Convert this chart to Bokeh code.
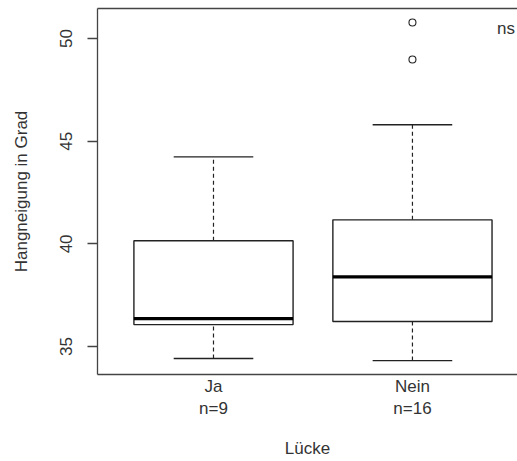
from bokeh.plotting import figure
from bokeh.models import Range1d, FixedTicker, LinearAxis, Label, ColumnDataSource
from bokeh.embed import file_html
from bokeh.resources import INLINE

# Data
groups = ["Ja", "Nein"]
counts = [9, 16]
xpos = [1, 2]
lower = [34.42, 34.32]
q1 = [36.07, 36.22]
median = [36.36, 38.39]
q3 = [40.15, 41.17]
upper = [44.24, 45.80]
outlier_x = [2, 2]
outlier_y = [50.78, 48.98]
y_ticks = [35, 40, 45, 50]

FONT = "Liberation Sans"
LINE = "#222222"
FS = "17px"

p = figure(width=517, height=461, output_backend="svg", toolbar_location=None,
           x_range=Range1d(0.417, 2.528), y_range=Range1d(33.64, 51.46),
           min_border_left=97, min_border_top=8, min_border_bottom=87, min_border_right=0)
p.outline_line_color = None
p.xgrid.visible = False
p.ygrid.visible = False
p.background_fill_color = "white"
p.border_fill_color = "white"

bw = 0.8
cw = 0.4
src = ColumnDataSource(dict(x=xpos, lower=lower, q1=q1, median=median, q3=q3, upper=upper,
                            l=[x - bw / 2 for x in xpos], r=[x + bw / 2 for x in xpos],
                            cl=[x - cw / 2 for x in xpos], cr=[x + cw / 2 for x in xpos]))

# whiskers (dashed)
p.segment(x0="x", y0="q3", x1="x", y1="upper", source=src, line_color=LINE, line_width=1.2, line_dash="4 3")
p.segment(x0="x", y0="lower", x1="x", y1="q1", source=src, line_color=LINE, line_width=1.2, line_dash="4 3")
# caps
p.segment(x0="cl", y0="upper", x1="cr", y1="upper", source=src, line_color=LINE, line_width=1.3)
p.segment(x0="cl", y0="lower", x1="cr", y1="lower", source=src, line_color=LINE, line_width=1.3)
# boxes
p.quad(left="l", right="r", bottom="q1", top="q3", source=src, fill_color="white",
       line_color=LINE, line_width=1.4)
# medians
p.segment(x0="l", y0="median", x1="r", y1="median", source=src, line_color="black", line_width=3.2)
# outliers
p.scatter(outlier_x, outlier_y, marker="circle", size=7, fill_color=None, line_color=LINE, line_width=1.1)

# y axis
ya = p.yaxis[0]
ya.ticker = FixedTicker(ticks=y_ticks)
ya.major_label_orientation = "vertical"
ya.major_tick_out = 10
ya.major_tick_in = 0
ya.minor_tick_out = 0
ya.minor_tick_in = 0
ya.major_label_standoff = 15
ya.major_label_text_font = FONT
ya.major_label_text_font_size = FS
ya.major_label_text_color = "#333333"
ya.axis_line_color = "#444444"
ya.axis_line_width = 1.3
ya.major_tick_line_color = "#444444"
ya.major_tick_line_width = 1.3
ya.axis_label = "Hangneigung in Grad"
ya.axis_label_text_font = FONT
ya.axis_label_text_font_size = FS
ya.axis_label_text_font_style = "normal"
ya.axis_label_text_color = "#333333"
ya.axis_label_standoff = 27

# x axis
xa = p.xaxis[0]
xa.ticker = FixedTicker(ticks=xpos)
xa.major_label_overrides = {x: f"{g}\nn={n}" for x, g, n in zip(xpos, groups, counts)}
xa.major_tick_out = 0
xa.major_tick_in = 0
xa.minor_tick_out = 0
xa.minor_tick_in = 0
xa.major_label_standoff = 2
xa.major_label_text_font = FONT
xa.major_label_text_font_size = FS
xa.major_label_text_color = "#333333"
xa.axis_line_color = "#444444"
xa.axis_line_width = 1.3
xa.axis_label = "Lücke"
xa.axis_label_text_font = FONT
xa.axis_label_text_font_size = FS
xa.axis_label_text_font_style = "normal"
xa.axis_label_text_color = "#333333"
xa.axis_label_standoff = 18

# top border
top = LinearAxis(ticker=FixedTicker(ticks=[]), major_label_text_font_size="0px",
                 axis_line_color="#444444", axis_line_width=1.3,
                 major_tick_out=0, minor_tick_out=0)
p.add_layout(top, "above")

p.add_layout(Label(x=2.47, y=50.5, text="ns", text_font=FONT, text_font_size=FS,
                   text_color="#333333", text_align="center", text_baseline="middle"))

open("out.html", "w").write(file_html(p, INLINE))
